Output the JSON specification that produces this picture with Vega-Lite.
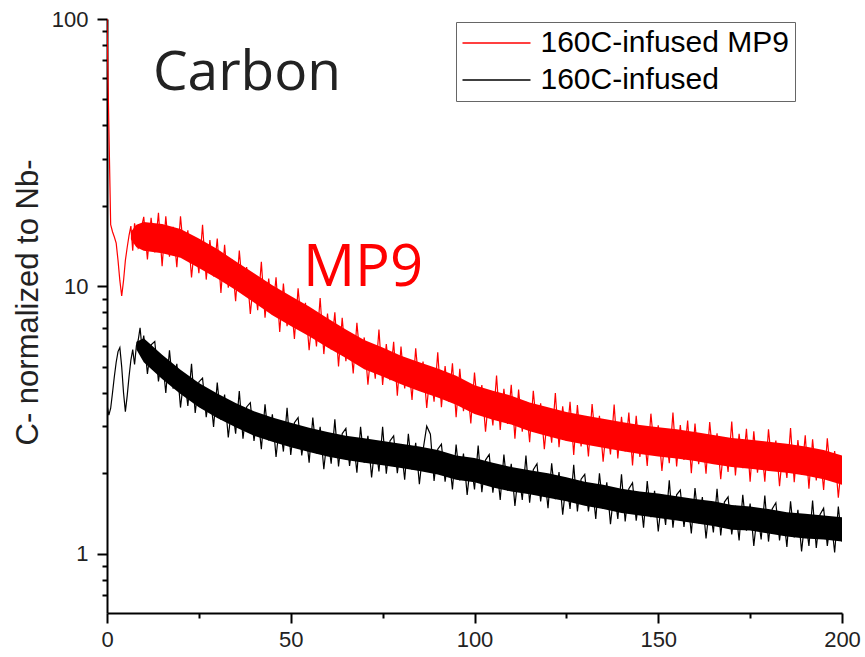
{
  "$schema": "https://vega.github.io/schema/vega-lite/v6.json",
  "width": 735,
  "height": 594,
  "autosize": {"type": "none"},
  "padding": {"left": 107, "top": 19, "right": 23, "bottom": 44},
  "background": "white",
  "config": {"view": {"stroke": null}, "font": "Liberation Sans"},
  "datasets": {
    "curves": [
      {"x":0,"r":100,"b":3.6},{"x":0.5,"r":40,"b":3.3},{"x":1,"r":17,"b":3.5},{"x":1.5,"r":16,"b":4.0},{"x":2,"r":15.3,"b":4.6},{"x":2.5,"r":14.5,"b":5.2},{"x":3,"r":12.5,"b":5.7},{"x":3.5,"r":10.5,"b":5.9},{"x":4,"r":9.2,"b":5.0},{"x":4.5,"r":10.5,"b":4.0},{"x":5,"r":12.5,"b":3.4},{"x":5.5,"r":14,"b":3.9},{"x":6,"r":15.5,"b":4.6},{"x":6.5,"r":16.8,"b":5.3},{"x":7,"r":13.6,"b":5.8},{"x":7.5,"r":17.2,"b":5.1},{"x":8,"r":15.9,"b":6.0},{"x":8.5,"r":13.9,"b":6.3},{"x":9,"r":14.2,"b":7.0},{"x":9.5,"r":16.9,"b":5.9},{"x":10,"r":18.2,"b":6.55},
      {"x":11,"r":12.6,"b":4.7},{"x":12,"r":18.05,"b":6.05},{"x":13,"r":13.4,"b":6.22},{"x":14,"r":18.85,"b":4.41},{"x":15,"r":11.9,"b":5.5},{"x":16,"r":18.3,"b":3.99},{"x":17,"r":12.9,"b":5.77},{"x":18,"r":16.7,"b":4.14},{"x":19,"r":11.8,"b":5.13},{"x":20,"r":18.3,"b":3.52},
      {"x":21,"r":12.9,"b":4.64},{"x":22,"r":16.2,"b":3.57},{"x":23,"r":10.8,"b":5.13},{"x":24,"r":15.0,"b":3.36},{"x":25,"r":11.2,"b":4.39},{"x":26,"r":17.0,"b":4.54},{"x":27,"r":10.6,"b":3.24},{"x":28,"r":14.9,"b":4.07},{"x":29,"r":10.9,"b":2.98},{"x":30,"r":15.1,"b":4.37},
      {"x":31,"r":9.44,"b":3.17},{"x":32,"r":14.3,"b":3.94},{"x":33,"r":9.89,"b":2.72},{"x":34,"r":12.6,"b":3.62},{"x":35,"r":8.8,"b":2.81},{"x":36,"r":13.6,"b":4.06},{"x":37,"r":9.5,"b":2.69},{"x":38,"r":11.8,"b":3.54},{"x":39,"r":7.88,"b":3.67},{"x":40,"r":10.9,"b":2.64},
      {"x":41,"r":8.15,"b":3.34},{"x":42,"r":12.35,"b":2.46},{"x":43,"r":7.63,"b":3.62},{"x":44,"r":10.7,"b":2.65},{"x":45,"r":7.83,"b":3.32},{"x":46,"r":10.8,"b":2.3},{"x":47,"r":6.75,"b":3.09},{"x":48,"r":10.25,"b":2.41},{"x":49,"r":7.1,"b":3.51},{"x":50,"r":9.07,"b":2.34},
      {"x":51,"r":6.36,"b":3.09},{"x":52,"r":9.83,"b":3.23},{"x":53,"r":6.93,"b":2.33},{"x":54,"r":8.68,"b":2.96},{"x":55,"r":5.77,"b":2.19},{"x":56,"r":7.98,"b":3.23},{"x":57,"r":5.96,"b":2.37},{"x":58,"r":9.04,"b":2.98},{"x":59,"r":5.58,"b":2.07},{"x":60,"r":7.91,"b":2.78},
      {"x":61,"r":5.81,"b":2.17},{"x":62,"r":8.0,"b":3.18},{"x":63,"r":5.02,"b":2.12},{"x":64,"r":7.63,"b":2.81},{"x":65,"r":5.25,"b":2.94},{"x":66,"r":6.72,"b":2.13},{"x":67,"r":4.72,"b":2.72},{"x":68,"r":7.31,"b":2.01},{"x":69,"r":5.13,"b":2.98},{"x":70,"r":6.44,"b":2.19},
      {"x":71,"r":4.29,"b":2.76},{"x":72,"r":6.0,"b":1.93},{"x":73,"r":4.51,"b":2.59},{"x":74,"r":6.89,"b":2.03},{"x":75,"r":4.28,"b":2.98},{"x":76,"r":6.08,"b":1.99},{"x":77,"r":4.46,"b":2.64},{"x":78,"r":6.2,"b":2.76},{"x":79,"r":3.9,"b":2.0},{"x":80,"r":5.95,"b":2.55},
      {"x":81,"r":4.15,"b":1.89},{"x":82,"r":5.33,"b":2.81},{"x":83,"r":3.76,"b":2.06},{"x":84,"r":5.86,"b":2.6},{"x":85,"r":4.14,"b":1.82},{"x":86,"r":5.23,"b":2.44},{"x":87,"r":3.51,"b":3.0},{"x":88,"r":4.9,"b":2.8},{"x":89,"r":3.7,"b":1.87},{"x":90,"r":5.67,"b":2.46},
      {"x":91,"r":3.53,"b":2.57},{"x":92,"r":5.03,"b":1.86},{"x":93,"r":3.7,"b":2.35},{"x":94,"r":5.15,"b":1.74},{"x":95,"r":3.24,"b":2.56},{"x":96,"r":4.92,"b":1.88},{"x":97,"r":3.41,"b":2.37},{"x":98,"r":4.37,"b":1.66},{"x":99,"r":3.07,"b":2.22},{"x":100,"r":4.76,"b":1.74},
      {"x":101,"r":3.37,"b":2.54},{"x":102,"r":4.27,"b":1.7},{"x":103,"r":2.86,"b":2.24},{"x":104,"r":4.0,"b":2.35},{"x":105,"r":3.02,"b":1.69},{"x":106,"r":4.64,"b":2.16},{"x":107,"r":2.9,"b":1.59},{"x":108,"r":4.14,"b":2.35},{"x":109,"r":3.06,"b":1.72},{"x":110,"r":4.28,"b":2.17},
      {"x":111,"r":2.69,"b":1.51},{"x":112,"r":4.11,"b":2.03},{"x":113,"r":2.86,"b":1.59},{"x":114,"r":3.7,"b":2.33},{"x":115,"r":2.61,"b":1.55},{"x":116,"r":4.07,"b":2.06},{"x":117,"r":2.88,"b":2.17},{"x":118,"r":3.65,"b":1.57},{"x":119,"r":2.46,"b":2.0},{"x":120,"r":3.43,"b":1.48},
      {"x":121,"r":2.6,"b":2.18},{"x":122,"r":3.99,"b":1.6},{"x":123,"r":2.5,"b":2.02},{"x":124,"r":3.56,"b":1.4},{"x":125,"r":2.64,"b":1.88},{"x":126,"r":3.7,"b":1.47},{"x":127,"r":2.34,"b":2.15},{"x":128,"r":3.6,"b":1.44},{"x":129,"r":2.52,"b":1.9},{"x":130,"r":3.26,"b":1.98},
      {"x":131,"r":2.31,"b":1.44},{"x":132,"r":3.63,"b":1.83},{"x":133,"r":2.57,"b":1.35},{"x":134,"r":3.28,"b":2.0},{"x":135,"r":2.21,"b":1.47},{"x":136,"r":3.09,"b":1.85},{"x":137,"r":2.35,"b":1.29},{"x":138,"r":3.61,"b":1.73},{"x":139,"r":2.27,"b":1.35},{"x":140,"r":3.25,"b":1.98},
      {"x":141,"r":2.41,"b":1.32},{"x":142,"r":3.37,"b":1.75},{"x":143,"r":2.14,"b":1.84},{"x":144,"r":3.28,"b":1.33},{"x":145,"r":2.3,"b":1.69},{"x":146,"r":2.99,"b":1.25},{"x":147,"r":2.13,"b":1.87},{"x":148,"r":3.34,"b":1.37},{"x":149,"r":2.38,"b":1.72},{"x":150,"r":3.02,"b":1.21},
      {"x":151,"r":2.04,"b":1.62},{"x":152,"r":2.87,"b":1.28},{"x":153,"r":2.18,"b":1.88},{"x":154,"r":3.37,"b":1.25},{"x":155,"r":2.12,"b":1.66},{"x":156,"r":3.03,"b":1.73},{"x":157,"r":2.24,"b":1.26},{"x":158,"r":3.15,"b":1.61},{"x":159,"r":2.0,"b":1.19},{"x":160,"r":3.07,"b":1.76},
      {"x":161,"r":2.16,"b":1.3},{"x":162,"r":2.8,"b":1.63},{"x":163,"r":1.99,"b":1.14},{"x":164,"r":3.11,"b":1.52},{"x":165,"r":2.21,"b":1.2},{"x":166,"r":2.82,"b":1.75},{"x":167,"r":1.9,"b":1.17},{"x":168,"r":2.66,"b":1.56},{"x":169,"r":2.02,"b":1.63},{"x":170,"r":3.12,"b":1.18},
      {"x":171,"r":1.96,"b":1.51},{"x":172,"r":2.81,"b":1.12},{"x":173,"r":2.09,"b":1.66},{"x":174,"r":2.93,"b":1.22},{"x":175,"r":1.86,"b":1.54},{"x":176,"r":2.87,"b":1.07},{"x":177,"r":2.01,"b":1.44},{"x":178,"r":2.61,"b":1.13},{"x":179,"r":1.86,"b":1.65},{"x":180,"r":2.92,"b":1.11},
      {"x":181,"r":2.08,"b":1.47},{"x":182,"r":2.65,"b":1.55},{"x":183,"r":1.79,"b":1.12},{"x":184,"r":2.51,"b":1.43},{"x":185,"r":1.92,"b":1.06},{"x":186,"r":2.95,"b":1.57},{"x":187,"r":1.85,"b":1.15},{"x":188,"r":2.66,"b":1.46},{"x":189,"r":1.97,"b":1.02},{"x":190,"r":2.77,"b":1.37},
      {"x":191,"r":1.75,"b":1.07},{"x":192,"r":2.68,"b":1.58},{"x":193,"r":1.88,"b":1.05},{"x":194,"r":2.43,"b":1.4},{"x":195,"r":1.73,"b":1.48},{"x":196,"r":2.7,"b":1.07},{"x":197,"r":1.91,"b":1.36},{"x":198,"r":2.42,"b":1.01},{"x":199,"r":1.62,"b":1.5},{"x":200,"r":2.27,"b":1.11}
    ],
    "bands": [
      {"x":6.5,"rl":15.0,"rh":16.0,"bl":null,"bh":null},{"x":8,"rl":14.0,"rh":17.0,"bl":5.8,"bh":6.2},
      {"x":10,"rl":13.6,"rh":17.4,"bl":5.2,"bh":6.4},{"x":15,"rl":13.3,"rh":17.1,"bl":4.5,"bh":5.55},{"x":20,"rl":12.8,"rh":16.4,"bl":3.96,"bh":4.88},{"x":25,"rl":11.7,"rh":15.1,"bl":3.53,"bh":4.35},
      {"x":30,"rl":10.7,"rh":13.8,"bl":3.22,"bh":3.97},{"x":35,"rl":9.7,"rh":12.4,"bl":2.97,"bh":3.66},{"x":40,"rl":8.7,"rh":11.2,"bl":2.76,"bh":3.41},{"x":45,"rl":7.8,"rh":10.1,"bl":2.62,"bh":3.23},
      {"x":50,"rl":7.1,"rh":9.2,"bl":2.5,"bh":3.09},{"x":55,"rl":6.5,"rh":8.4,"bl":2.4,"bh":2.96},{"x":60,"rl":5.9,"rh":7.6,"bl":2.31,"bh":2.85},{"x":65,"rl":5.4,"rh":6.9,"bl":2.24,"bh":2.76},
      {"x":70,"rl":4.9,"rh":6.3,"bl":2.19,"bh":2.7},{"x":75,"rl":4.6,"rh":5.9,"bl":2.14,"bh":2.64},{"x":80,"rl":4.3,"rh":5.5,"bl":2.09,"bh":2.58},{"x":85,"rl":4.05,"rh":5.2,"bl":2.04,"bh":2.52},
      {"x":90,"rl":3.84,"rh":4.93,"bl":1.98,"bh":2.44},{"x":95,"rl":3.61,"rh":4.63,"bl":1.89,"bh":2.33},{"x":100,"rl":3.33,"rh":4.27,"bl":1.85,"bh":2.28},{"x":105,"rl":3.17,"rh":4.07,"bl":1.77,"bh":2.19},
      {"x":110,"rl":3.04,"rh":3.9,"bl":1.71,"bh":2.11},{"x":115,"rl":2.87,"rh":3.68,"bl":1.67,"bh":2.05},{"x":120,"rl":2.75,"rh":3.53,"bl":1.62,"bh":2.0},{"x":125,"rl":2.64,"rh":3.39,"bl":1.57,"bh":1.93},
      {"x":130,"rl":2.56,"rh":3.29,"bl":1.51,"bh":1.86},{"x":135,"rl":2.49,"rh":3.2,"bl":1.47,"bh":1.81},{"x":140,"rl":2.42,"rh":3.11,"bl":1.42,"bh":1.75},{"x":145,"rl":2.36,"rh":3.03,"bl":1.39,"bh":1.71},
      {"x":150,"rl":2.31,"rh":2.97,"bl":1.36,"bh":1.68},{"x":155,"rl":2.27,"rh":2.92,"bl":1.33,"bh":1.64},{"x":160,"rl":2.22,"rh":2.85,"bl":1.3,"bh":1.6},{"x":165,"rl":2.16,"rh":2.78,"bl":1.27,"bh":1.57},
      {"x":170,"rl":2.11,"rh":2.71,"bl":1.23,"bh":1.52},{"x":175,"rl":2.08,"rh":2.67,"bl":1.22,"bh":1.5},{"x":180,"rl":2.04,"rh":2.62,"bl":1.19,"bh":1.47},{"x":185,"rl":2.01,"rh":2.58,"bl":1.16,"bh":1.43},
      {"x":190,"rl":1.96,"rh":2.52,"bl":1.14,"bh":1.41},{"x":195,"rl":1.9,"rh":2.44,"bl":1.13,"bh":1.39},{"x":200,"rl":1.81,"rh":2.33,"bl":1.11,"bh":1.37}
    ],
    "carbon": [{"x": 12.5, "y": 54.3, "t": "Carbon"}],
    "mp9": [{"x": 53.3, "y": 10.0, "t": "MP9"}]
  },
  "layer": [
    {
      "data": {"name": "bands"},
      "mark": {"type": "area", "color": "#ff0000", "opacity": 1, "clip": true},
      "encoding": {
        "x": {"field": "x", "type": "quantitative", "scale": {"domain": [0, 200], "nice": false, "zero": false}},
        "y": {"field": "rl", "type": "quantitative", "scale": {"type": "log", "domain": [0.6, 100], "nice": false}},
        "y2": {"field": "rh"}
      }
    },
    {
      "data": {"name": "bands"},
      "transform": [{"filter": "isValid(datum.bl)"}],
      "mark": {"type": "area", "color": "#000000", "opacity": 1, "clip": true},
      "encoding": {
        "x": {"field": "x", "type": "quantitative"},
        "y": {"field": "bl", "type": "quantitative"},
        "y2": {"field": "bh"}
      }
    },
    {
      "data": {"name": "curves"},
      "transform": [{"fold": ["b", "r"], "as": ["k", "v"]}],
      "mark": {"type": "line", "strokeWidth": 1.2, "clip": true},
      "encoding": {
        "x": {
          "field": "x", "type": "quantitative",
          "scale": {"domain": [0, 200], "nice": false, "zero": false},
          "axis": {
            "title": null, "grid": false,
            "values": [0, 25, 50, 75, 100, 125, 150, 175, 200],
            "labelExpr": "datum.value % 50 == 0 ? datum.label : ''",
            "domainColor": "#000000", "domainWidth": 2,
            "tickColor": "#000000", "tickWidth": 2,
            "tickSize": {"condition": {"test": "datum.value % 50 == 0", "value": 10}, "value": 5},
            "labelFontSize": 22, "labelColor": "#222222", "labelPadding": 6, "labelFlush": false
          }
        },
        "y": {
          "field": "v", "type": "quantitative",
          "scale": {"type": "log", "domain": [0.6, 100], "nice": false},
          "axis": {
            "title": "C- normalized to Nb-", "grid": false,
            "values": [0.7, 0.8, 0.9, 1, 2, 3, 4, 5, 6, 7, 8, 9, 10, 20, 30, 40, 50, 60, 70, 80, 90, 100],
            "labelExpr": "datum.value == 1 || datum.value == 10 || datum.value == 100 ? datum.label : ''",
            "domainColor": "#000000", "domainWidth": 2,
            "tickColor": "#000000", "tickWidth": 2,
            "tickSize": {"condition": {"test": "datum.value == 1 || datum.value == 10 || datum.value == 100", "value": 10}, "value": 5},
            "labelFontSize": 22, "labelColor": "#222222", "labelPadding": 9,
            "titleFontSize": 31, "titleFontWeight": "normal", "titleColor": "#222222", "titlePadding": 7, "titleY": 283
          }
        },
        "color": {
          "field": "k", "type": "nominal",
          "scale": {"domain": ["r", "b"], "range": ["#ff0000", "#000000"]},
          "legend": {
            "title": null, "orient": "none", "legendX": 349, "legendY": 3,
            "labelExpr": "datum.value == 'r' ? '160C-infused MP9' : '160C-infused'",
            "symbolType": "M-2.5,0H2.5", "symbolSize": 740, "symbolStrokeWidth": 1.5,
            "symbolOffset": 19.5,
            "labelFontSize": 30, "labelColor": "#000000", "labelOffset": 29, "labelLimit": 400,
            "rowPadding": 7, "padding": 6,
            "strokeColor": "#666666", "fillColor": "#ffffff"
          }
        }
      }
    },
    {
      "data": {"name": "carbon"},
      "mark": {"type": "text", "align": "left", "baseline": "alphabetic", "font": "Open Sans", "fontSize": 55, "color": "#222222"},
      "encoding": {
        "x": {"field": "x", "type": "quantitative"},
        "y": {"field": "y", "type": "quantitative"},
        "text": {"field": "t"}
      }
    },
    {
      "data": {"name": "mp9"},
      "mark": {"type": "text", "align": "left", "baseline": "alphabetic", "font": "Open Sans", "fontSize": 58, "color": "#ff0000"},
      "encoding": {
        "x": {"field": "x", "type": "quantitative"},
        "y": {"field": "y", "type": "quantitative"},
        "text": {"field": "t"}
      }
    }
  ]
}
